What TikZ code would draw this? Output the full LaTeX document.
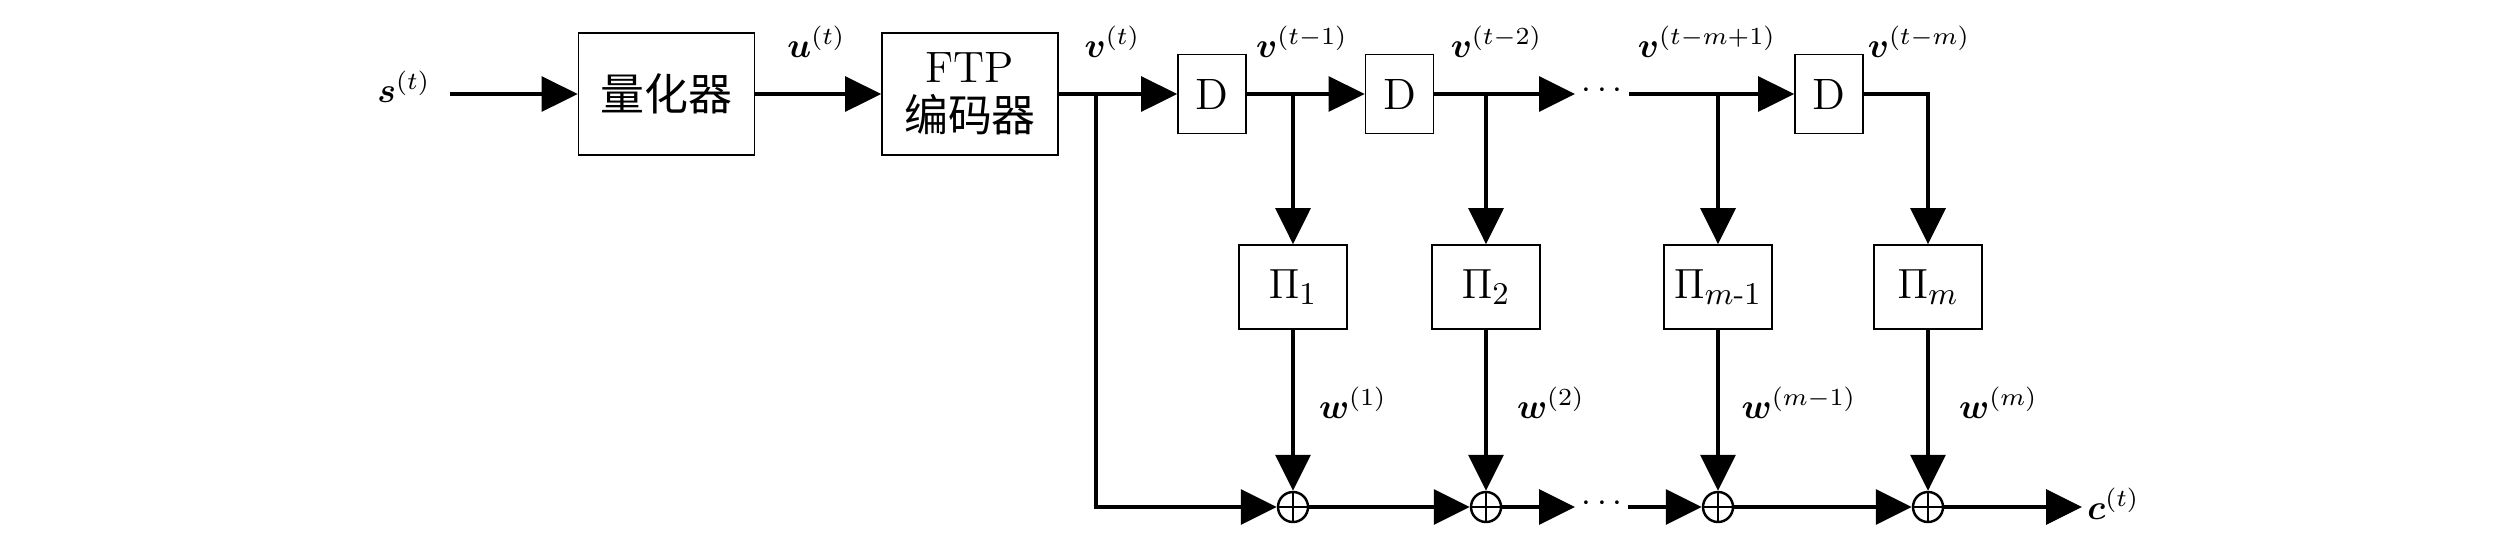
\documentclass[tikz,border=0pt]{standalone}
\usepackage{amsmath}
\usepackage{fontspec}
\newfontfamily\cjk{Noto Sans CJK SC}
\usetikzlibrary{arrows.meta}

\newcommand\boxfont{\fontsize{12.5}{14}\selectfont}
\newcommand\lblfont{\normalsize}

\tikzset{
    blk/.style={draw, line width=0.5pt, minimum width=1.76cm, minimum height=1.22cm,
        inner sep=0pt, align=center, font=\boxfont},
    dly/.style={blk, minimum width=0.68cm, minimum height=0.79cm},
    perm/.style={blk, minimum width=1.08cm, minimum height=0.84cm},
    adder/.style={circle, draw, line width=0.7pt, minimum size=0.30cm, inner sep=0pt,
        path picture={\draw[line width=0.6pt]
            (path picture bounding box.north) -- (path picture bounding box.south)
            (path picture bounding box.west) -- (path picture bounding box.east);}},
    lbl/.style={inner sep=0pt, font=\lblfont},
    arr/.style={line width=0.9pt, -{Triangle[length=3.6mm,width=3.5mm]}},
    wire/.style={line width=0.9pt}
}

\begin{document}
\begin{tikzpicture}
    \useasboundingbox (0,0) rectangle (25.2,5.33);

    % Define the blocks
    \node[blk] (quant) at (6.665,4.39) {\cjk 量化器};
    \node[blk] (ftp) at (9.70,4.39) {FTP\\\cjk 编码器};
    \node[dly] (d1) at (12.12,4.39) {D};
    \node[dly] (d2) at (13.995,4.39) {D};
    \node[dly] (d3) at (18.29,4.39) {D};

    \node[perm] (pi1) at (12.93,2.46) {$\Pi_1$};
    \node[perm] (pi2) at (14.86,2.46) {$\Pi_2$};
    \node[perm] (pi3) at (17.18,2.46) {$\Pi_{m\text{-}1}$};
    \node[perm] (pi4) at (19.28,2.46) {$\Pi_m$};

    \node[adder] (add1) at (12.93,0.26) {};
    \node[adder] (add2) at (14.86,0.26) {};
    \node[adder] (add3) at (17.18,0.26) {};
    \node[adder] (add4) at (19.28,0.26) {};

    % Define the branch points and free ends
    \coordinate (sin) at (4.50,4.39);
    \coordinate (j0) at (10.96,4.39);
    \coordinate (j1) at (12.93,4.39);
    \coordinate (j2) at (14.86,4.39);
    \coordinate (j3) at (17.18,4.39);
    \coordinate (top1) at (15.75,4.39);
    \coordinate (top2) at (16.29,4.39);
    \coordinate (bot1) at (15.75,0.26);
    \coordinate (bot2) at (16.28,0.26);
    \coordinate (cend) at (20.82,0.26);

    \node[lbl] (dots1) at (16.05,4.42) {$\cdots$};
    \node[lbl] (dots2) at (16.05,0.29) {$\cdots$};

    % Draw the upper chain
    \draw[arr] (sin) -- (quant);
    \draw[arr] (quant) -- (ftp);
    \draw[arr] (ftp) -- (d1);
    \draw[arr] (d1) -- (d2);
    \draw[arr] (d2) -- (top1);
    \draw[arr] (top2) -- (d3);

    % Draw the taps
    \draw[arr] (j1) -- (pi1);
    \draw[arr] (j2) -- (pi2);
    \draw[arr] (j3) -- (pi3);
    \draw[arr] (d3) -| (pi4);
    \draw[arr] (pi1) -- (add1);
    \draw[arr] (pi2) -- (add2);
    \draw[arr] (pi3) -- (add3);
    \draw[arr] (pi4) -- (add4);

    % Draw the lower chain
    \draw[arr] (j0) |- (add1);
    \draw[arr] (add1) -- (add2);
    \draw[arr] (add2) -- (bot1);
    \draw[arr] (bot2) -- (add3);
    \draw[arr] (add3) -- (add4);
    \draw[arr] (add4) -- (cend);

    % Place the labels
    \node[lbl] (ls) at (4.04,4.465) {$\boldsymbol{s}^{(t)}$};
    \node[lbl] (lu) at (8.165,4.915) {$\boldsymbol{u}^{(t)}$};
    \node[lbl] (lv0) at (11.125,4.915) {$\boldsymbol{v}^{(t)}$};
    \node[lbl] (lv1) at (13.02,4.915) {$\boldsymbol{v}^{(t-1)}$};
    \node[lbl] (lv2) at (14.965,4.915) {$\boldsymbol{v}^{(t-2)}$};
    \node[lbl] (lv3) at (17.07,4.915) {$\boldsymbol{v}^{(t-m+1)}$};
    \node[lbl] (lv4) at (19.19,4.915) {$\boldsymbol{v}^{(t-m)}$};
    \node[lbl] (lw1) at (13.53,1.30) {$\boldsymbol{w}^{(1)}$};
    \node[lbl] (lw2) at (15.51,1.30) {$\boldsymbol{w}^{(2)}$};
    \node[lbl] (lw3) at (17.99,1.30) {$\boldsymbol{w}^{(m-1)}$};
    \node[lbl] (lw4) at (19.985,1.30) {$\boldsymbol{w}^{(m)}$};
    \node[lbl] (lc) at (21.135,0.29) {$\boldsymbol{c}^{(t)}$};

\end{tikzpicture}
\end{document}
